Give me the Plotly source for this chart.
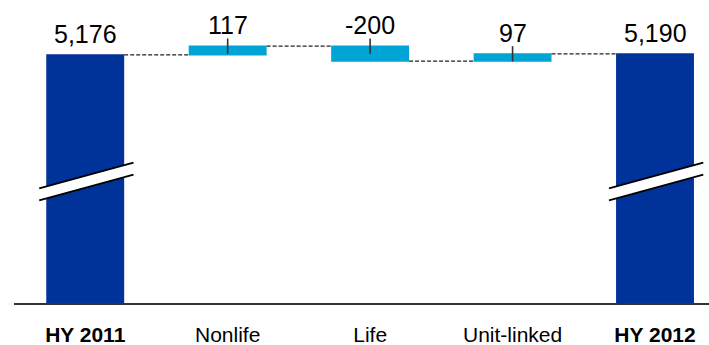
import numpy as np
import plotly.graph_objects as go

# ---- data ----
categories = ["HY 2011", "Nonlife", "Life", "Unit-linked", "HY 2012"]
tick_labels = ["<b>HY 2011</b>", "Nonlife", "Life", "Unit-linked", "<b>HY 2012</b>"]
start_value = 5176
changes = [117, -200, 97]
end_value = 5190
measures = ["absolute", "relative", "relative", "relative", "total"]

dark_blue = "#003399"
cyan = "#00A5D6"
font_family = "Arial, Liberation Sans, sans-serif"

y_values = [start_value] + changes + [end_value]
cum = np.cumsum([start_value] + changes)          # running level after each step
prev = np.concatenate([[start_value], cum[:-1]])   # level before each step
# top edge of each bar
tops = [start_value] + [max(p, c) for p, c in zip(prev[1:], cum[1:])] + [end_value]
labels = [f"{v:,}" for v in y_values]

fig = go.Figure()
fig.add_trace(go.Waterfall(
    x=categories,
    y=[start_value] + changes + [0],
    measure=measures,
    width=0.547,
    increasing=dict(marker=dict(color=cyan)),
    decreasing=dict(marker=dict(color=cyan)),
    totals=dict(marker=dict(color=dark_blue)),
    connector=dict(mode="between", line=dict(color="#222222", width=1.2, dash="4px,2px")),
    textinfo="none",
    hoverinfo="skip",
    showlegend=False,
))

# small tick marks at the top edge of the change bars
fig.add_trace(go.Scatter(
    x=categories[1:4],
    y=tops[1:4],
    mode="markers",
    marker=dict(symbol="line-ns", size=11, line=dict(width=1.6, color="#333333")),
    hoverinfo="skip",
    showlegend=False,
))

# value labels
for cat, top, lab in zip(categories, tops, labels):
    fig.add_annotation(
        x=cat, y=top, text=lab, showarrow=False,
        yanchor="bottom", yshift=5,
        font=dict(size=25, color="#000000", family=font_family),
    )

# axis-break marks on the two total bars
for idx in (0, 4):
    x0 = idx - 0.323
    x1 = idx + 0.339
    yu0, yu1 = 0.3785, 0.463
    yl0, yl1 = 0.339, 0.4234
    fig.add_shape(type="path", xref="x", yref="paper",
                  path=f"M {x0} {yu0} L {x1} {yu1} L {x1} {yl1} L {x0} {yl0} Z",
                  fillcolor="white", line=dict(width=0), layer="above")
    for (a, b) in ((yu0, yu1), (yl0, yl1)):
        fig.add_shape(type="line", xref="x", yref="paper", x0=x0, x1=x1, y0=a, y1=b,
                      line=dict(color="#000000", width=1.8), layer="above")

fig.update_layout(
    width=709, height=345,
    margin=dict(l=14, r=0, t=0, b=42),
    paper_bgcolor="white", plot_bgcolor="white",
    font=dict(family=font_family, color="#000000"),
    xaxis=dict(
        type="category",
        categoryorder="array", categoryarray=categories,
        tickmode="array", tickvals=categories, ticktext=tick_labels,
        range=[-0.5, 4.379],
        showline=True, linecolor="#333333", linewidth=2,
        showgrid=False, zeroline=False, ticks="",
        tickfont=dict(size=21, color="#000000", family=font_family),
        ticklabelstandoff=12,
    ),
    yaxis=dict(range=[1868, 5908], visible=False, showgrid=False, zeroline=False),
)

fig.write_html("out.html")
